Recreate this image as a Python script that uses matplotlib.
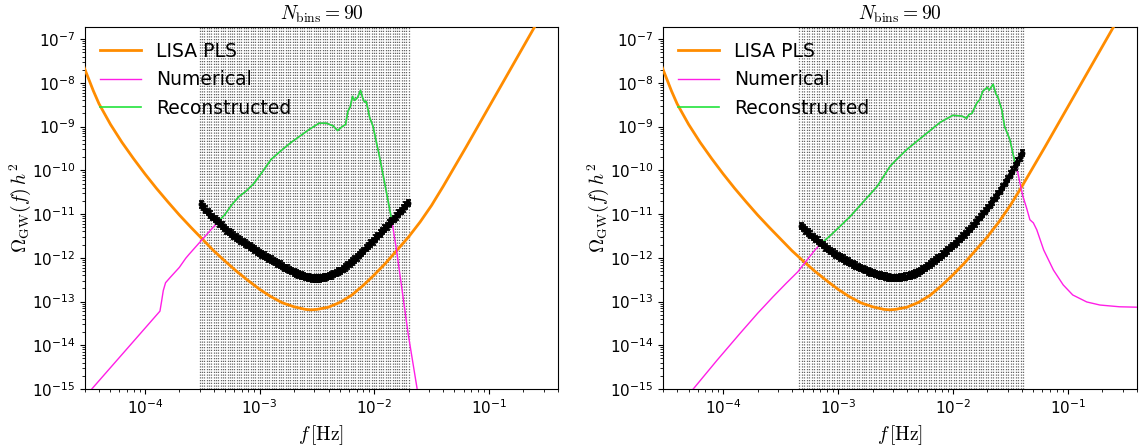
import numpy as np
import matplotlib
matplotlib.use("Agg")
import matplotlib.pyplot as plt

plt.rcParams['mathtext.fontset'] = 'cm'
plt.rcParams['font.family'] = ['DejaVu Sans']

# ---------------- data (log10 values) ----------------
N_BINS = 90

# LISA power-law sensitivity (same in both panels)
pls_logf = [-4.534, -4.45, -4.40, -4.30, -4.20, -4.10, -4.00, -3.90, -3.80, -3.70,
            -3.60, -3.50, -3.40, -3.30, -3.20, -3.10, -3.00, -2.90, -2.80, -2.70,
            -2.60, -2.55, -2.50, -2.40, -2.30, -2.20, -2.10, -2.00, -1.90, -1.80,
            -1.70, -1.60, -1.50, -1.47, -1.40, -1.30, -1.20, -1.10, -1.00, -0.90,
            -0.80, -0.70, -0.60, -0.55]
pls_logO = [-7.62, -8.18, -8.48, -8.95, -9.36, -9.73, -10.08, -10.41, -10.72, -11.02,
            -11.30, -11.57, -11.84, -12.08, -12.31, -12.52, -12.72, -12.89, -13.03, -13.12,
            -13.18, -13.19, -13.18, -13.13, -13.02, -12.86, -12.64, -12.39, -12.12, -11.82,
            -11.52, -11.18, -10.80, -10.67, -10.37, -9.92, -9.47, -9.01, -8.55, -8.09,
            -7.63, -7.17, -6.71, -6.48]

# ---- left panel ----
L_band = (3.0e-4, 2.0e-2)
L_num_lo_logf = [-4.52, -3.869, -3.855, -3.84, -3.82, -3.78, -3.70, -3.644, -3.615, -3.50]
L_num_lo_logO = [-15.17, -13.22, -13.00, -12.75, -12.57, -12.45, -12.22, -12.01, -11.92, -11.58]
L_rec_logf = [-3.37, -3.30, -3.24, -3.18, -3.12, -3.05, -2.98, -2.90, -2.80, -2.72,
              -2.65, -2.56, -2.48, -2.42, -2.36, -2.32, -2.28, -2.25, -2.23, -2.21,
              -2.19, -2.17, -2.145, -2.12, -2.10, -2.085, -2.07, -2.04, -2.01, -2.00,
              -1.955, -1.91, -1.865, -1.848]
L_rec_logO = [-11.20, -11.00, -10.78, -10.60, -10.48, -10.30, -10.05, -9.75, -9.52, -9.35,
              -9.22, -9.05, -8.92, -8.92, -8.98, -9.09, -9.00, -8.95, -8.65, -8.55,
              -8.31, -8.40, -8.33, -8.17, -8.35, -8.44, -8.42, -8.79, -9.00, -9.13,
              -9.68, -10.28, -10.90, -11.13]
L_num_hi_logf = [-1.806, -1.705, -1.626, -1.60]
L_num_hi_logO = [-11.82, -13.73, -15.00, -15.45]
L_bins_logO = [-10.78, -10.84, -10.90, -10.95, -11.01, -11.07, -11.11, -11.16, -11.21, -11.26,
               -11.32, -11.37, -11.41, -11.45, -11.49, -11.53, -11.57, -11.60, -11.64, -11.67,
               -11.71, -11.74, -11.78, -11.81, -11.85, -11.89, -11.92, -11.95, -11.98, -12.01,
               -12.04, -12.07, -12.10, -12.13, -12.16, -12.19, -12.23, -12.25, -12.28, -12.30,
               -12.33, -12.36, -12.38, -12.40, -12.42, -12.44, -12.45, -12.46, -12.47, -12.47,
               -12.47, -12.47, -12.46, -12.45, -12.44, -12.42, -12.40, -12.37, -12.35, -12.32,
               -12.30, -12.26, -12.22, -12.17, -12.13, -12.09, -12.04, -11.99, -11.94, -11.89,
               -11.84, -11.78, -11.73, -11.67, -11.62, -11.56, -11.50, -11.45, -11.39, -11.33,
               -11.28, -11.22, -11.16, -11.11, -11.05, -10.99, -10.93, -10.87, -10.81, -10.75]

# ---- right panel ----
R_band = (4.6e-4, 4.1e-2)
R_num_lo_logf = [-4.40, -4.26, -4.052, -3.85, -3.70, -3.565, -3.45, -3.35, -3.27, -3.20]
R_num_lo_logO = [-15.43, -15.00, -14.34, -13.72, -13.27, -12.89, -12.58, -12.32, -12.05, -11.82]
R_rec_logf = [-3.157, -3.05, -2.896, -2.78, -2.66, -2.548, -2.49, -2.40, -2.26, -2.11,
              -2.00, -1.92, -1.88, -1.86, -1.835, -1.79, -1.765, -1.74, -1.70, -1.685,
              -1.65, -1.625, -1.61, -1.575, -1.55, -1.505, -1.46]
R_rec_logO = [-11.70, -11.45, -11.06, -10.72, -10.37, -9.91, -9.75, -9.52, -9.22, -8.90,
              -8.74, -8.76, -8.81, -8.72, -8.70, -8.45, -8.38, -8.19, -8.10, -8.17,
              -8.03, -8.26, -8.31, -8.61, -9.00, -9.29, -9.82]
R_num_hi_logf = [-1.435, -1.41, -1.39, -1.36, -1.33, -1.30, -1.27, -1.21, -1.125, -1.04,
                 -0.957, -0.835, -0.72, -0.55, -0.39]
R_num_hi_logO = [-10.05, -10.37, -10.60, -10.85, -11.13, -11.20, -11.36, -11.82, -12.28, -12.62,
                 -12.85, -13.01, -13.08, -13.12, -13.13]
R_bins_logO = [-11.27, -11.32, -11.37, -11.42, -11.47, -11.52, -11.57, -11.61, -11.66, -11.71,
               -11.76, -11.80, -11.84, -11.88, -11.92, -11.96, -11.99, -12.02, -12.06, -12.09,
               -12.12, -12.15, -12.18, -12.21, -12.23, -12.26, -12.28, -12.31, -12.33, -12.35,
               -12.37, -12.39, -12.40, -12.42, -12.43, -12.45, -12.46, -12.46, -12.46, -12.46,
               -12.45, -12.44, -12.43, -12.42, -12.40, -12.38, -12.36, -12.33, -12.30, -12.27,
               -12.23, -12.19, -12.15, -12.11, -12.06, -12.02, -11.98, -11.93, -11.88, -11.83,
               -11.78, -11.73, -11.68, -11.62, -11.57, -11.51, -11.46, -11.40, -11.34, -11.27,
               -11.21, -11.14, -11.07, -11.00, -10.93, -10.86, -10.79, -10.71, -10.63, -10.55,
               -10.47, -10.38, -10.29, -10.20, -10.10, -10.01, -9.91, -9.80, -9.70, -9.60]

C_PLS = '#ff8c00'
C_NUM = '#ff1ee6'
C_REC = '#22e33c'


def p10(a):
    return 10.0 ** np.asarray(a)


fig = plt.figure(figsize=(11.42, 4.47), dpi=100)
axL = fig.add_axes([0.0744, 0.1298, 0.4142, 0.8098])
axR = fig.add_axes([0.5806, 0.1298, 0.4150, 0.8098])

panels = [
    (axL, L_band, L_num_lo_logf, L_num_lo_logO, L_rec_logf, L_rec_logO,
     L_num_hi_logf, L_num_hi_logO, L_bins_logO),
    (axR, R_band, R_num_lo_logf, R_num_lo_logO, R_rec_logf, R_rec_logO,
     R_num_hi_logf, R_num_hi_logO, R_bins_logO),
]

for (ax, band, nlo_f, nlo_O, rec_f, rec_O, nhi_f, nhi_O, bins_O) in panels:
    ax.set_xscale('log')
    ax.set_yscale('log')
    # bin edges as dotted vertical lines
    edges = np.geomspace(band[0], band[1], N_BINS + 1)
    for e in edges:
        ax.axvline(e, color='0.4', lw=0.9, ls=(0, (1.0, 1.2)), zorder=1)
    centers = np.sqrt(edges[:-1] * edges[1:])

    ax.plot(p10(pls_logf), p10(pls_logO), color=C_PLS, lw=2, label='LISA PLS', zorder=3)
    num_f = list(nlo_f) + list(rec_f) + list(nhi_f)
    num_O = list(nlo_O) + list(rec_O) + list(nhi_O)
    ax.plot(p10(num_f), p10(num_O), color=C_NUM, lw=1, label='Numerical', zorder=4)
    ax.plot(p10(rec_f), p10(rec_O), color=C_REC, lw=1.2, label='Reconstructed', zorder=5)

    yb = p10(bins_O)
    ax.errorbar(centers, yb, yerr=[yb * 0.16, yb * 0.19], fmt='o', ms=3.2, color='k',
                ecolor='k', elinewidth=1.5, capsize=1.8, capthick=1.3, zorder=6)

    ax.set_xlim(3e-5, 0.4)
    ax.set_ylim(1e-15, 1.9e-7)
    ax.set_title(r'$N_{\rm bins} = 90$', fontsize=14, pad=5)
    ax.set_xlabel(r'$f\,[\mathrm{Hz}]$', fontsize=14)
    ax.set_ylabel(r'$\Omega_{\rm GW}(f)\,h^2$', fontsize=14, labelpad=-1)
    ax.tick_params(axis='both', which='major', labelsize=11)
    ax.legend(loc='upper left', frameon=False, fontsize=13.5, handlelength=2.2,
              labelspacing=0.5, borderaxespad=0.4)

fig.savefig('out.png', dpi=100)
